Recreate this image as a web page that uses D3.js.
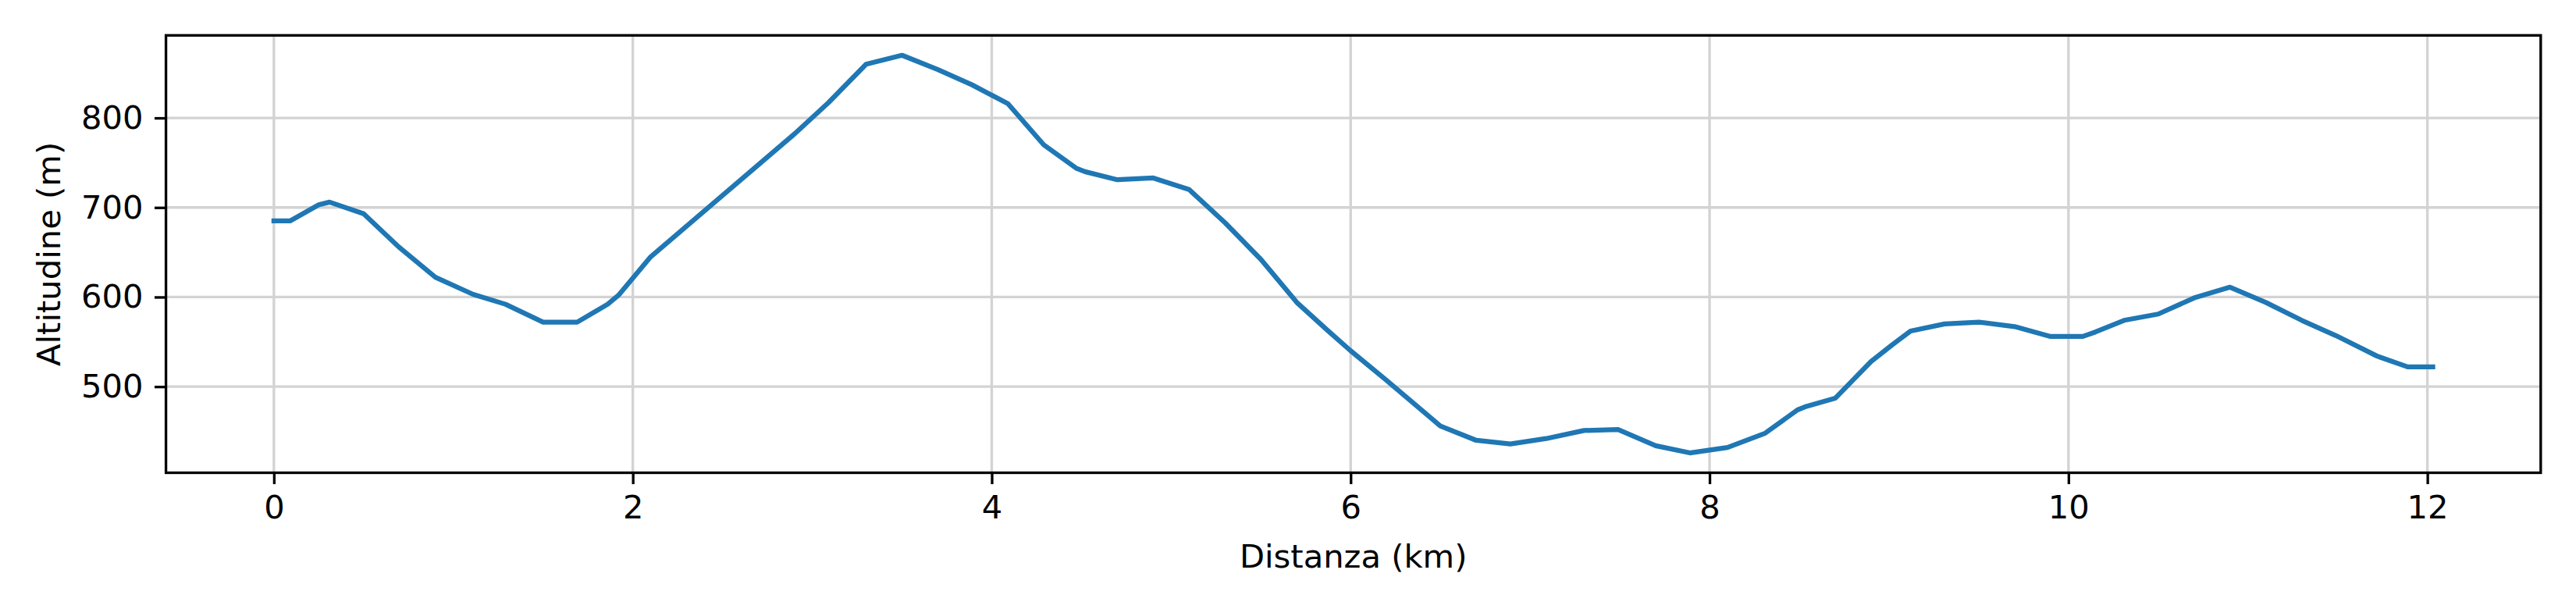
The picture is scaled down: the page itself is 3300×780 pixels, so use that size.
<!DOCTYPE html>
<html>
<head>
<meta charset="utf-8">
<script src="https://cdn.jsdelivr.net/npm/d3@7"></script>
<style>
  html, body { margin: 0; padding: 0; background: #fff; }
  svg { display: block; }
  text { font-family: "DejaVu Sans", sans-serif; }
</style>
</head>
<body>
<script>
// ---- data ----
const distanceKm = [0, 0.09, 0.25, 0.31, 0.5, 0.69, 0.9, 1.11, 1.29, 1.5, 1.69, 1.86, 1.92,
  2.1, 2.9, 3.09, 3.3, 3.5, 3.7, 3.89, 4.09, 4.29, 4.47, 4.52, 4.7, 4.9,
  5.1, 5.3, 5.5, 5.7, 5.87, 6.0, 6.2, 6.5, 6.7, 6.89, 7.09, 7.3, 7.49, 7.7, 7.89, 8.1,
  8.31, 8.49, 8.54, 8.7, 8.9, 9.02, 9.12, 9.31, 9.5, 9.7, 9.9, 10.08, 10.15, 10.31,
  10.5, 10.7, 10.9, 11.1, 11.3, 11.49, 11.72, 11.89, 12.03];
const altitudeM = [685, 685, 703, 706, 693, 657, 622, 603, 592, 572, 572, 592, 602,
  645, 782, 817, 860, 870, 854, 837, 816, 770, 744, 740, 731, 733,
  720, 683, 642, 594, 563, 540, 507, 456, 440, 436, 442, 451, 452, 434, 426, 432,
  448, 474, 478, 487, 528, 547, 562, 570, 572, 567, 556, 556, 561, 574,
  581, 599, 611, 594, 574, 557, 534, 522, 522];
const xTicks = [0, 2, 4, 6, 8, 10, 12];
const yTicks = [500, 600, 700, 800];
const xLabel = "Distanza (km)";
const yLabel = "Altitudine (m)";

// ---- layout ----
const W = 3300, H = 780;
const plot = { left: 212.6, right: 3254.8, top: 45.3, bottom: 605.5 };
const fontPx = 41.67;
const tickLen = 14.6, tickPad = 14.6;
const lw = 3.33;

const svg = d3.select("body").append("svg")
  .attr("width", W).attr("height", H)
  .attr("viewBox", `0 0 ${W} ${H}`);

svg.append("rect").attr("width", W).attr("height", H).attr("fill", "#fff");

const points = distanceKm.map((d, i) => ({ x: d, y: altitudeM[i] }));

const xExt = d3.extent(distanceKm), yExt = d3.extent(altitudeM);
const xPad = (xExt[1] - xExt[0]) * 0.05, yPad = (yExt[1] - yExt[0]) * 0.05;

const x = d3.scaleLinear().domain([xExt[0] - xPad, xExt[1] + xPad]).range([plot.left, plot.right]);
const y = d3.scaleLinear().domain([yExt[0] - yPad, yExt[1] + yPad]).range([plot.bottom, plot.top]);

// grid
const grid = svg.append("g").attr("stroke", "#d3d3d3").attr("stroke-width", lw);
grid.selectAll("line.v").data(xTicks).join("line").attr("class", "v")
  .attr("x1", d => x(d)).attr("x2", d => x(d))
  .attr("y1", plot.top).attr("y2", plot.bottom);
grid.selectAll("line.h").data(yTicks).join("line").attr("class", "h")
  .attr("x1", plot.left).attr("x2", plot.right)
  .attr("y1", d => y(d)).attr("y2", d => y(d));

// line
svg.append("path").datum(points)
  .attr("fill", "none")
  .attr("stroke", "#1f77b4")
  .attr("stroke-width", 6.25)
  .attr("stroke-linejoin", "round")
  .attr("stroke-linecap", "square")
  .attr("d", d3.line().x(d => x(d.x)).y(d => y(d.y)));

// axes
const xAxis = svg.append("g").attr("transform", `translate(0,${plot.bottom})`)
  .call(d3.axisBottom(x).tickValues(xTicks).tickFormat(d3.format("d"))
    .tickSize(tickLen).tickPadding(tickPad).tickSizeOuter(0));
const yAxis = svg.append("g").attr("transform", `translate(${plot.left},0)`)
  .call(d3.axisLeft(y).tickValues(yTicks).tickFormat(d3.format("d"))
    .tickSize(tickLen).tickPadding(tickPad).tickSizeOuter(0));

[xAxis, yAxis].forEach(a => {
  a.select(".domain").remove();
  a.selectAll(".tick line").attr("stroke", "#000").attr("stroke-width", lw);
  a.selectAll(".tick text").attr("fill", "#000")
    .style("font-family", "'DejaVu Sans', sans-serif")
    .style("font-size", fontPx + "px");
});

// frame
svg.append("rect")
  .attr("x", plot.left).attr("y", plot.top)
  .attr("width", plot.right - plot.left).attr("height", plot.bottom - plot.top)
  .attr("fill", "none").attr("stroke", "#000").attr("stroke-width", lw);

// labels
svg.append("text")
  .attr("x", (plot.left + plot.right) / 2).attr("y", 727)
  .attr("text-anchor", "middle")
  .style("font-size", fontPx + "px").attr("fill", "#000")
  .text(xLabel);
svg.append("text")
  .attr("transform", `translate(77,${(plot.top + plot.bottom) / 2}) rotate(-90)`)
  .attr("text-anchor", "middle")
  .style("font-size", fontPx + "px").attr("fill", "#000")
  .text(yLabel);
</script>
</body>
</html>
